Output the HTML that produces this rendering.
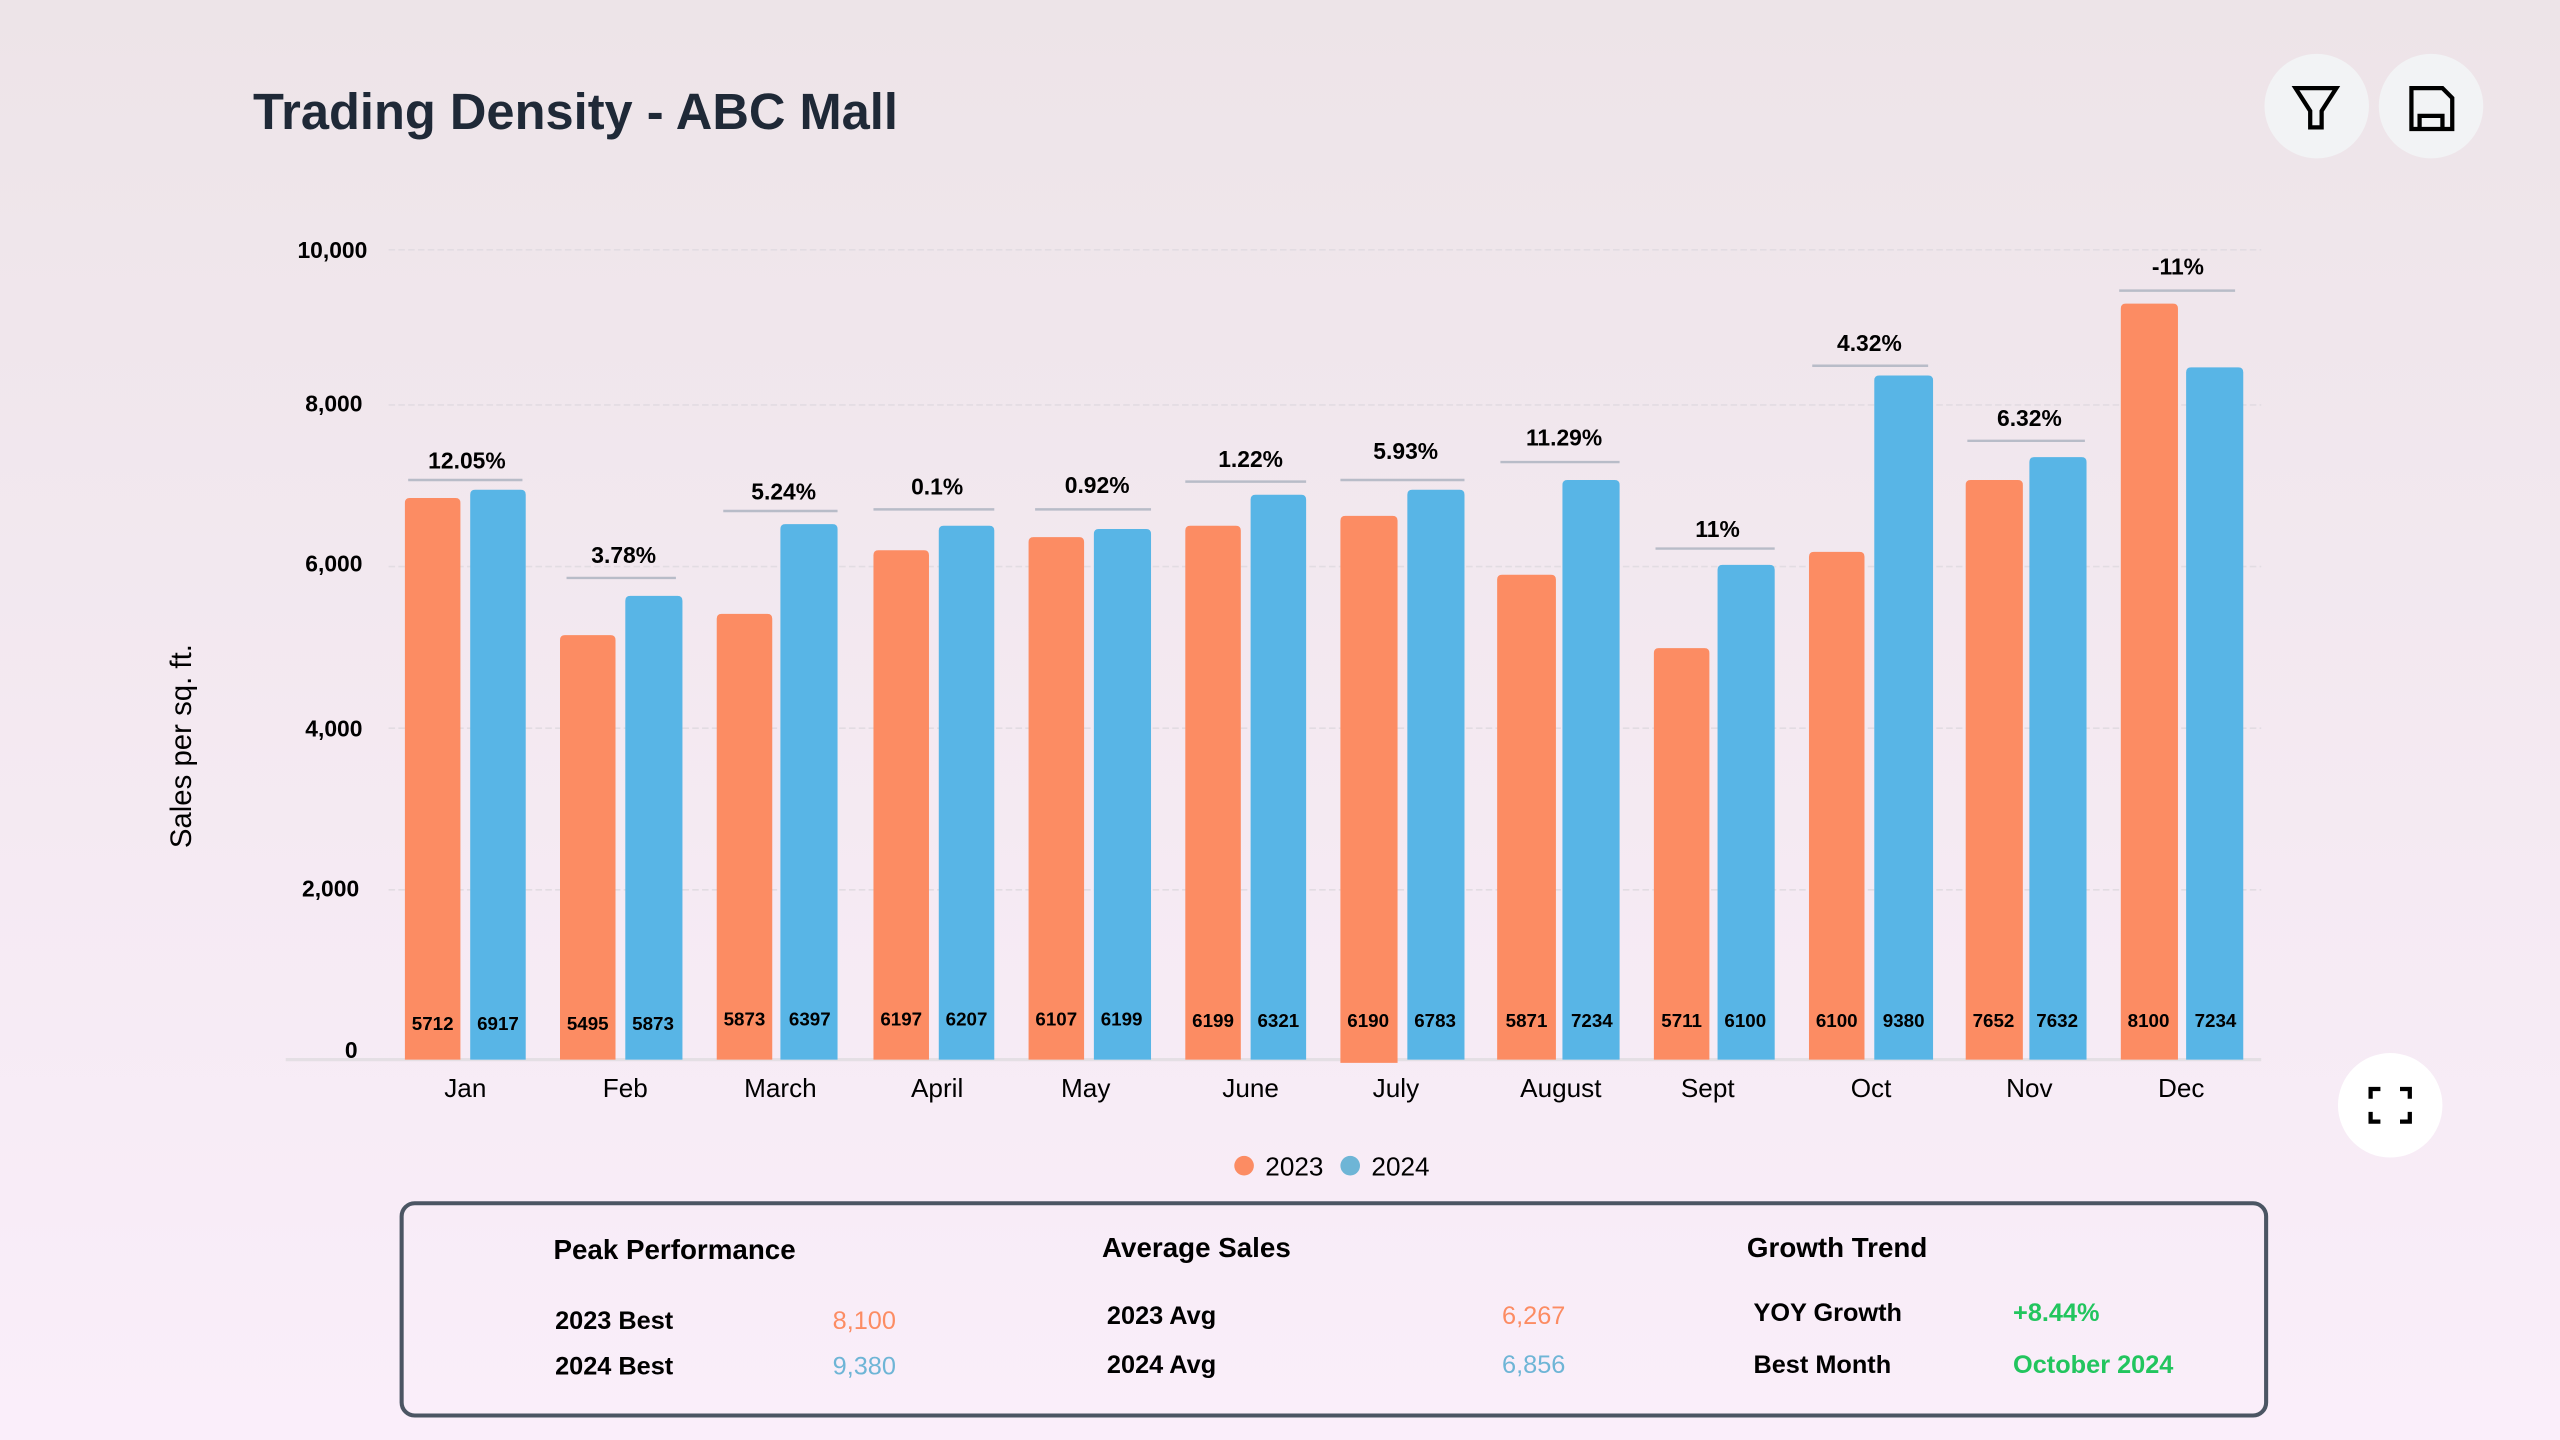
<!DOCTYPE html>
<html><head><meta charset="utf-8"><style>
html,body{margin:0;padding:0;width:2560px;height:1440px;overflow:hidden;background:linear-gradient(#ede4e8,#faeefa);}
svg{display:block;font-family:"Liberation Sans",Arial,sans-serif;}
</style></head><body>
<svg width="2560" height="1440" viewBox="0 0 1568 882" xmlns="http://www.w3.org/2000/svg">
<defs><linearGradient id="bg" x1="0" y1="0" x2="0" y2="1"><stop offset="0" stop-color="#ede4e8"/><stop offset="1" stop-color="#faeefa"/></linearGradient></defs>
<rect width="1568" height="882" fill="url(#bg)"/>
<text x="155" y="79" font-size="31" font-weight="bold" fill="#1f2937">Trading Density - ABC Mall</text>
<circle cx="1419" cy="65" r="32" fill="#f2f3f5"/>
<path d="M1406 54 H1431 L1422 68 V78 H1415 V68 Z" fill="none" stroke="#000" stroke-width="2.6" stroke-linejoin="miter"/>
<circle cx="1489" cy="65" r="32" fill="#f2f3f5"/>
<path d="M1477 54 H1496 L1502 60 V79 H1477 Z M1482 79 V71 H1496 V79" fill="none" stroke="#000" stroke-width="2.6"/>
<circle cx="1464" cy="677" r="32" fill="#ffffff"/>
<path d="M1452 673 V667 H1458 M1470 667 H1476 V673 M1476 681 V687 H1470 M1458 687 H1452 V681" fill="none" stroke="#000" stroke-width="2.6"/>
<g stroke="#e2dce2" stroke-width="1" stroke-dasharray="4 2">
<line x1="238" y1="153" x2="1385" y2="153"/><line x1="238" y1="248" x2="1385" y2="248"/><line x1="238" y1="347" x2="1385" y2="347"/><line x1="238" y1="446" x2="1385" y2="446"/><line x1="238" y1="545" x2="1385" y2="545"/>
</g>
<line x1="175" y1="649" x2="1385" y2="649" stroke="#e4dfe4" stroke-width="2"/>
<g font-size="14" font-weight="bold" fill="#000" text-anchor="end">
<text x="225" y="158">10,000</text><text x="222" y="252">8,000</text><text x="222" y="350">6,000</text><text x="222" y="451">4,000</text><text x="220" y="549">2,000</text><text x="219" y="648">0</text>
</g>
<text transform="translate(117,457) rotate(-90)" font-size="18" text-anchor="middle" fill="#000">Sales per sq. ft.</text>
<g font-size="16" fill="#000" text-anchor="middle">
<text x="285" y="672">Jan</text><text x="383" y="672">Feb</text><text x="478" y="672">March</text><text x="574" y="672">April</text><text x="665" y="672">May</text><text x="766" y="672">June</text><text x="855" y="672">July</text><text x="956" y="672">August</text><text x="1046" y="672">Sept</text><text x="1146" y="672">Oct</text><text x="1243" y="672">Nov</text><text x="1336" y="672">Dec</text>
</g>
<circle cx="762" cy="714" r="6" fill="#fc8c63"/><text x="775" y="720" font-size="16" fill="#000">2023</text>
<circle cx="827" cy="714" r="6" fill="#6eb5d6"/><text x="840" y="720" font-size="16" fill="#000">2024</text>
<rect x="246" y="737" width="1142" height="130" rx="8" fill="none" stroke="#4b5563" stroke-width="2.5"/>
<g font-size="17" font-weight="bold" fill="#000">
<text x="339" y="771">Peak Performance</text><text x="675" y="770">Average Sales</text><text x="1070" y="770">Growth Trend</text>
</g>
<g font-size="15.5" font-weight="bold" fill="#000">
<text x="340" y="814">2023 Best</text><text x="340" y="842">2024 Best</text>
<text x="678" y="811">2023 Avg</text><text x="678" y="841">2024 Avg</text>
<text x="1074" y="809">YOY Growth</text><text x="1074" y="841">Best Month</text>
</g>
<g font-size="15.5">
<text x="510" y="814" fill="#fc8c63">8,100</text><text x="510" y="842" fill="#6eb5d6">9,380</text>
<text x="920" y="811" fill="#fc8c63">6,267</text><text x="920" y="841" fill="#6eb5d6">6,856</text>
<text x="1233" y="809" fill="#22c55e" font-weight="bold">+8.44%</text><text x="1233" y="841" fill="#22c55e" font-weight="bold">October 2024</text>
</g>
<g>
<path d="M248 649 V308 q0-3 3-3 h28 q3 0 3 3 V649Z" fill="#fc8c63"/><path d="M288 649 V303 q0-3 3-3 h28 q3 0 3 3 V649Z" fill="#58b5e6"/>
<path d="M343 649 V392 q0-3 3-3 h28 q3 0 3 3 V649Z" fill="#fc8c63"/><path d="M383 649 V368 q0-3 3-3 h29 q3 0 3 3 V649Z" fill="#58b5e6"/>
<path d="M439 649 V379 q0-3 3-3 h28 q3 0 3 3 V649Z" fill="#fc8c63"/><path d="M478 649 V324 q0-3 3-3 h29 q3 0 3 3 V649Z" fill="#58b5e6"/>
<path d="M535 649 V340 q0-3 3-3 h28 q3 0 3 3 V649Z" fill="#fc8c63"/><path d="M575 649 V325 q0-3 3-3 h28 q3 0 3 3 V649Z" fill="#58b5e6"/>
<path d="M630 649 V332 q0-3 3-3 h28 q3 0 3 3 V649Z" fill="#fc8c63"/><path d="M670 649 V327 q0-3 3-3 h29 q3 0 3 3 V649Z" fill="#58b5e6"/>
<path d="M726 649 V325 q0-3 3-3 h28 q3 0 3 3 V649Z" fill="#fc8c63"/><path d="M766 649 V306 q0-3 3-3 h28 q3 0 3 3 V649Z" fill="#58b5e6"/>
<path d="M821 651 V319 q0-3 3-3 h29 q3 0 3 3 V651Z" fill="#fc8c63"/><path d="M862 649 V303 q0-3 3-3 h29 q3 0 3 3 V649Z" fill="#58b5e6"/>
<path d="M917 649 V355 q0-3 3-3 h30 q3 0 3 3 V649Z" fill="#fc8c63"/><path d="M957 649 V297 q0-3 3-3 h29 q3 0 3 3 V649Z" fill="#58b5e6"/>
<path d="M1013 649 V400 q0-3 3-3 h28 q3 0 3 3 V649Z" fill="#fc8c63"/><path d="M1052 649 V349 q0-3 3-3 h29 q3 0 3 3 V649Z" fill="#58b5e6"/>
<path d="M1108 649 V341 q0-3 3-3 h28 q3 0 3 3 V649Z" fill="#fc8c63"/><path d="M1148 649 V233 q0-3 3-3 h30 q3 0 3 3 V649Z" fill="#58b5e6"/>
<path d="M1204 649 V297 q0-3 3-3 h29 q3 0 3 3 V649Z" fill="#fc8c63"/><path d="M1243 649 V283 q0-3 3-3 h29 q3 0 3 3 V649Z" fill="#58b5e6"/>
<path d="M1299 649 V189 q0-3 3-3 h29 q3 0 3 3 V649Z" fill="#fc8c63"/><path d="M1339 649 V228 q0-3 3-3 h29 q3 0 3 3 V649Z" fill="#58b5e6"/>
</g>
<g font-size="11.5" font-weight="bold" fill="#000" text-anchor="middle">
<text x="265" y="631">5712</text><text x="305" y="631">6917</text>
<text x="360" y="631">5495</text><text x="400" y="631">5873</text>
<text x="456" y="628">5873</text><text x="496" y="628">6397</text>
<text x="552" y="628">6197</text><text x="592" y="628">6207</text>
<text x="647" y="628">6107</text><text x="687" y="628">6199</text>
<text x="743" y="629">6199</text><text x="783" y="629">6321</text>
<text x="838" y="629">6190</text><text x="879" y="629">6783</text>
<text x="935" y="629">5871</text><text x="975" y="629">7234</text>
<text x="1030" y="629">5711</text><text x="1069" y="629">6100</text>
<text x="1125" y="629">6100</text><text x="1166" y="629">9380</text>
<text x="1221" y="629">7652</text><text x="1260" y="629">7632</text>
<text x="1316" y="629">8100</text><text x="1357" y="629">7234</text>
</g>
<g stroke="#b8bcc8" stroke-width="1.5">
<line x1="250" y1="294" x2="320" y2="294"/><line x1="347" y1="354" x2="414" y2="354"/><line x1="443" y1="313" x2="513" y2="313"/><line x1="535" y1="312" x2="609" y2="312"/><line x1="634" y1="312" x2="705" y2="312"/><line x1="726" y1="295" x2="800" y2="295"/><line x1="821" y1="294" x2="897" y2="294"/><line x1="919" y1="283" x2="992" y2="283"/><line x1="1014" y1="336" x2="1087" y2="336"/><line x1="1110" y1="224" x2="1181" y2="224"/><line x1="1205" y1="270" x2="1277" y2="270"/><line x1="1298" y1="178" x2="1369" y2="178"/>
</g>
<g font-size="14" font-weight="bold" fill="#000" text-anchor="middle">
<text x="286" y="287">12.05%</text><text x="382" y="345">3.78%</text><text x="480" y="306">5.24%</text><text x="574" y="303">0.1%</text><text x="672" y="302">0.92%</text><text x="766" y="286">1.22%</text><text x="861" y="281">5.93%</text><text x="958" y="273">11.29%</text><text x="1052" y="329">11%</text><text x="1145" y="215">4.32%</text><text x="1243" y="261">6.32%</text><text x="1334" y="168">-11%</text>
</g>
</svg>
</body></html>
